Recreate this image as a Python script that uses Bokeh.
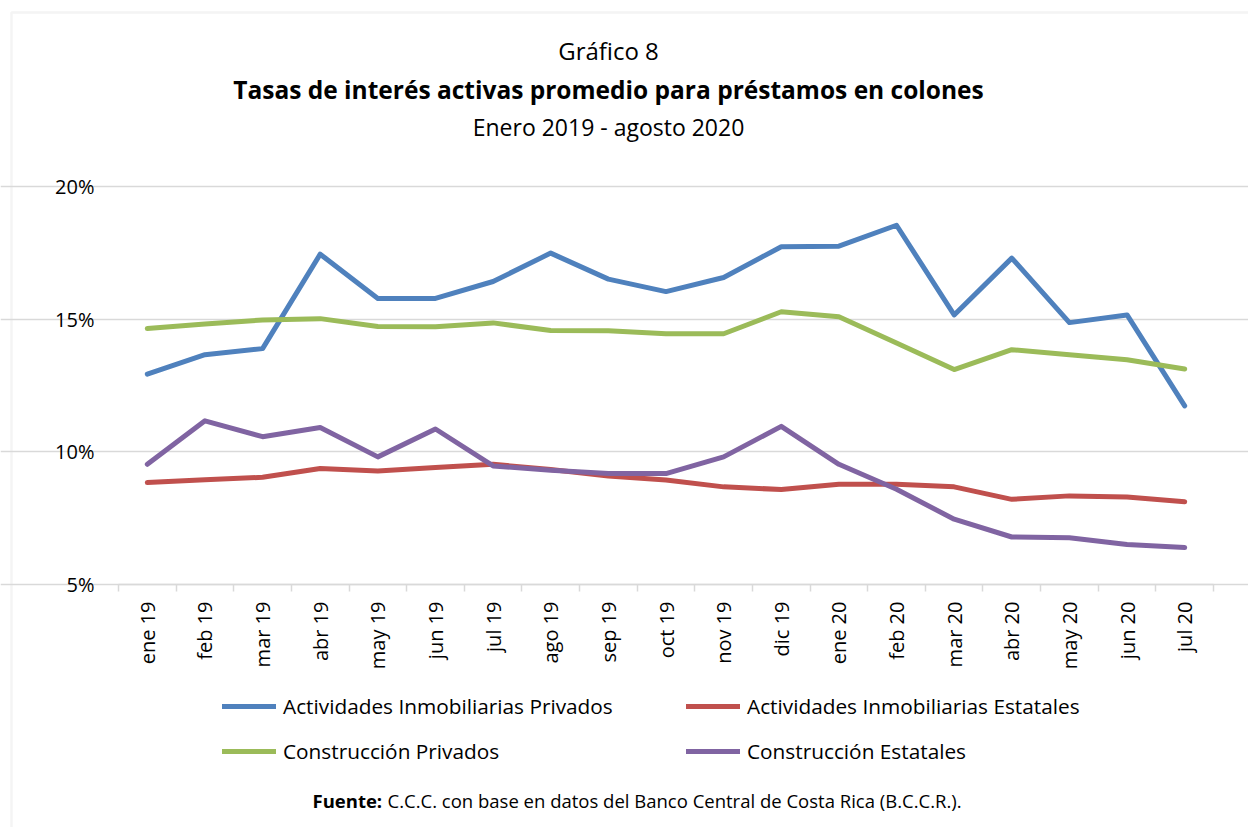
import math
from bokeh.plotting import figure
from bokeh.models import (Range1d, FixedTicker, Legend, LegendItem, Label, BoxAnnotation,
                          LinearAxis, Grid)
from bokeh.embed import file_html
from bokeh.resources import INLINE

# ---------------- data ----------------
months = ["ene 19", "feb 19", "mar 19", "abr 19", "may 19", "jun 19", "jul 19",
          "ago 19", "sep 19", "oct 19", "nov 19", "dic 19", "ene 20", "feb 20",
          "mar 20", "abr 20", "may 20", "jun 20", "jul 20"]

act_inmob_privados = [12.93, 13.66, 13.89, 17.45, 15.78, 15.78, 16.42, 17.49, 16.51, 16.04,
                      16.57, 17.73, 17.75, 18.54, 15.16, 17.30, 14.87, 15.16, 11.73]
act_inmob_estatales = [8.84, 8.95, 9.04, 9.37, 9.28, 9.41, 9.53, 9.33, 9.09, 8.94,
                       8.68, 8.58, 8.78, 8.78, 8.68, 8.21, 8.34, 8.30, 8.12]
construccion_privados = [14.65, 14.82, 14.97, 15.02, 14.72, 14.71, 14.86, 14.57, 14.56, 14.45,
                         14.45, 15.28, 15.09, 14.10, 13.10, 13.85, 13.66, 13.47, 13.12]
construccion_estatales = [9.53, 11.17, 10.57, 10.92, 9.81, 10.86, 9.47, 9.31, 9.18, 9.18,
                          9.81, 10.96, 9.53, 8.59, 7.46, 6.79, 6.76, 6.51, 6.39]

series_names = ["Actividades Inmobiliarias Privados", "Actividades Inmobiliarias Estatales",
                "Construcción Privados", "Construcción Estatales"]
y_ticks = [5, 10, 15, 20]

title_1 = "Gráfico 8"
title_2 = "Tasas de interés activas promedio para préstamos en colones"
title_3 = "Enero 2019 - agosto 2020"
source_bold = "Fuente:"
source_text = "C.C.C. con base en datos del Banco Central de Costa Rica (B.C.C.R.)."

# ---------------- layout / style ----------------
W, H = 1248, 827
PLOT_L, PLOT_R, PLOT_T, PLOT_B = 118, 1213, 186, 584   # plot-area box in pixels
FONT = "Open Sans"
colors = ["#4F81BD", "#C0504D", "#9BBB59", "#8064A2"]
GRID = "#d9d9d9"
TXT = "#000000"

n = len(months)
x_lo, x_hi = -0.5, n - 0.5
y_lo, y_hi = y_ticks[0], y_ticks[-1]
ppx = (PLOT_R - PLOT_L) / (x_hi - x_lo)
ppy = (PLOT_B - PLOT_T) / (y_hi - y_lo)
x_range = Range1d(x_lo - PLOT_L / ppx, x_hi + (W - PLOT_R) / ppx)
y_range = Range1d(y_lo - (H - PLOT_B) / ppy, y_hi + PLOT_T / ppy)

p = figure(width=W, height=H, output_backend="svg", toolbar_location=None,
           x_range=x_range, y_range=y_range,
           x_axis_location=None, y_axis_location=None, min_border=0)
p.title.visible = False
p.outline_line_color = None
p.background_fill_color = "white"
p.border_fill_color = "white"
for g in p.grid:
    g.visible = False

# outer border of the chart area (left and top edges visible)
def px_to_x(px):
    return x_range.start + px / ppx

def px_to_y(py):
    return y_range.end - py / ppy

p.add_layout(BoxAnnotation(left=px_to_x(11), top=px_to_y(12), right=px_to_x(W + 20),
                           bottom=px_to_y(H + 20), fill_alpha=0, line_color=GRID,
                           line_width=2.5, level="underlay"))

# grid
p.add_layout(Grid(dimension=1, ticker=FixedTicker(ticks=y_ticks), bounds=(x_lo, x_hi),
                  grid_line_color=GRID, grid_line_width=1.5))

xs = list(range(n))
all_series = [act_inmob_privados, act_inmob_estatales, construccion_privados, construccion_estatales]
renderers = []
for ys, col in zip(all_series, colors):
    r = p.line(xs, ys, line_color=col, line_width=5, line_cap="round", line_join="round")
    renderers.append(r)

# y axis
yaxis = LinearAxis(fixed_location=x_lo, bounds=(y_lo, y_hi), ticker=FixedTicker(ticks=y_ticks),
                   major_label_overrides={t: f"{t}%" for t in y_ticks},
                   axis_line_color=None, major_tick_line_color=None, minor_tick_line_color=None,
                   major_label_text_font=FONT, major_label_text_font_size="20px",
                   major_label_text_color=TXT, major_label_standoff=18)
p.add_layout(yaxis, "left")

# x axis
xaxis = LinearAxis(fixed_location=y_lo, bounds=(x_lo, x_hi),
                   ticker=FixedTicker(ticks=xs, minor_ticks=[i - 0.5 for i in range(n + 1)]),
                   major_label_overrides={i: m for i, m in enumerate(months)},
                   major_label_orientation=math.pi / 2,
                   major_tick_line_color=None,
                   minor_tick_line_color=GRID, minor_tick_line_width=1.5,
                   minor_tick_in=0, minor_tick_out=7,
                   axis_line_color=GRID, axis_line_width=1.5,
                   major_label_text_font=FONT, major_label_text_font_size="20px",
                   major_label_text_color=TXT, major_label_standoff=10)
p.add_layout(xaxis, "below")

# legends (two columns)
def make_legend(idx, x_left):
    return Legend(items=[LegendItem(label=series_names[i], renderers=[renderers[i]]) for i in idx],
                  location=(x_left, H - 765), orientation="vertical",
                  glyph_width=54, glyph_height=28, label_height=28, label_standoff=7,
                  spacing=17, padding=0, margin=0,
                  border_line_color=None, background_fill_alpha=0,
                  label_text_font=FONT, label_text_font_size="20.8px", label_text_color=TXT)

p.add_layout(make_legend([0, 2], 222))
p.add_layout(make_legend([1, 3], 686))

# titles
for txt, yy, style, fs in [(title_1, 50, "normal", "24px"), (title_2, 89, "bold", "24.5px"),
                           (title_3, 126, "normal", "23px")]:
    p.add_layout(Label(x=608, y=H - yy, x_units="screen", y_units="screen", text=txt,
                       text_align="center", text_baseline="middle", text_font=FONT,
                       text_font_size=fs, text_font_style=style, text_color=TXT))

p.add_layout(Label(x=312, y=H - 800, x_units="screen", y_units="screen", text=source_bold,
                   text_align="left", text_baseline="middle", text_font=FONT,
                   text_font_size="18.5px", text_font_style="bold", text_color=TXT))
p.add_layout(Label(x=387, y=H - 800, x_units="screen", y_units="screen", text=source_text,
                   text_align="left", text_baseline="middle", text_font=FONT,
                   text_font_size="18.5px", text_color=TXT))

open("out.html", "w").write(file_html(p, INLINE))
